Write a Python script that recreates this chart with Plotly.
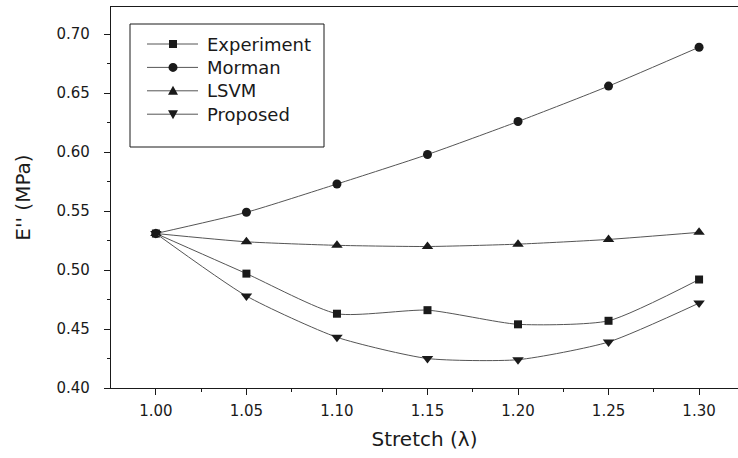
import plotly.graph_objects as go

# Stretch ratio (lambda) at which E'' was evaluated
stretch = [1.00, 1.05, 1.10, 1.15, 1.20, 1.25, 1.30]

# Loss modulus E'' (MPa) for each model
experiment = [0.531, 0.497, 0.463, 0.466, 0.454, 0.457, 0.492]
morman = [0.531, 0.549, 0.573, 0.598, 0.626, 0.656, 0.689]
lsvm = [0.531, 0.524, 0.521, 0.520, 0.522, 0.526, 0.532]
proposed = [0.531, 0.478, 0.443, 0.425, 0.424, 0.439, 0.472]

series_names = ["Experiment", "Morman", "LSVM", "Proposed"]

x_ticks = [1.00, 1.05, 1.10, 1.15, 1.20, 1.25, 1.30]
y_ticks = [0.40, 0.45, 0.50, 0.55, 0.60, 0.65, 0.70]

FONT = "DejaVu Sans"
INK = "#1a1a1a"
LINE = "#555555"

# figure / plot-area geometry in pixels
W, H = 738, 458
ML, MR, MT, MB = 111, 0, 7, 70
PW, PH = W - ML - MR, H - MT - MB


def px(x):
    return (x - ML) / PW


def py(y):
    return 1 - (y - MT) / PH


values = [experiment, morman, lsvm, proposed]
symbols = ["square", "circle", "triangle-up", "triangle-down"]
sizes = [8, 9, 10, 10]

fig = go.Figure()
for name, vals, symbol, size in zip(series_names, values, symbols, sizes):
    fig.add_trace(go.Scatter(
        x=stretch, y=vals, name=name, mode="lines+markers", showlegend=False,
        line=dict(color=LINE, width=1, shape="spline", smoothing=0.6),
        marker=dict(symbol=symbol, size=size, color=INK, line=dict(width=0)),
    ))

axis_common = dict(
    showgrid=False, zeroline=False, showline=True, linecolor=INK, linewidth=1.2,
    ticks="outside", ticklen=6, tickwidth=1, tickcolor=INK,
    tickfont=dict(family=FONT, size=15, color=INK),
    minor=dict(ticks="outside", ticklen=3, tickwidth=1, tickcolor=INK),
)

fig.update_xaxes(
    **axis_common, range=[0.9752, 1.3215], tickvals=x_ticks,
    ticktext=[f"{v:.2f}" for v in x_ticks], mirror=True, ticklabelstandoff=3,
    title=dict(text="Stretch (λ)", font=dict(family=FONT, size=20, color=INK), standoff=12),
)
fig.update_xaxes(minor_dtick=0.025, minor_tick0=1.0)
fig.update_yaxes(
    **axis_common, range=[0.40, 0.7231], tickvals=y_ticks,
    ticktext=[f"{v:.2f}" for v in y_ticks], ticklabelstandoff=11,
    title=dict(text="E'' (MPa)", font=dict(family=FONT, size=20, color=INK), standoff=20),
)
fig.update_yaxes(minor_dtick=0.025, minor_tick0=0.40)

# legend box drawn with layout shapes and annotations
shapes = [dict(type="rect", xref="paper", yref="paper",
               x0=px(130), x1=px(324), y0=py(147), y1=py(24),
               line=dict(color=INK, width=1), fillcolor="white", layer="above")]
annotations = []
marker_paths = {
    "triangle-up": "M-5,-4 L5,-4 L0,5 Z",
    "triangle-down": "M-5,4 L5,4 L0,-5 Z",
}
for i, (name, symbol) in enumerate(zip(series_names, symbols)):
    yc = 44 + i * 23.4
    shapes.append(dict(type="line", xref="paper", yref="paper",
                       x0=px(147), x1=px(198), y0=py(yc), y1=py(yc),
                       line=dict(color=LINE, width=1), layer="above"))
    common = dict(xref="paper", yref="paper", xsizemode="pixel", ysizemode="pixel",
                  xanchor=px(173), yanchor=py(yc), fillcolor=INK,
                  line=dict(width=0), layer="above")
    if symbol == "square":
        shapes.append(dict(type="rect", x0=-4, x1=4, y0=-4, y1=4, **common))
    elif symbol == "circle":
        shapes.append(dict(type="circle", x0=-4.5, x1=4.5, y0=-4.5, y1=4.5, **common))
    else:
        shapes.append(dict(type="path", path=marker_paths[symbol], **common))
    annotations.append(dict(
        xref="paper", yref="paper", x=px(205), y=py(yc), xanchor="left", yanchor="middle",
        text=name, showarrow=False, font=dict(family=FONT, size=18, color=INK),
    ))

fig.update_layout(
    width=W, height=H,
    margin=dict(l=ML, r=MR, t=MT, b=MB),
    paper_bgcolor="white", plot_bgcolor="white",
    showlegend=False,
    shapes=shapes, annotations=annotations,
)

fig.write_html("out.html")
